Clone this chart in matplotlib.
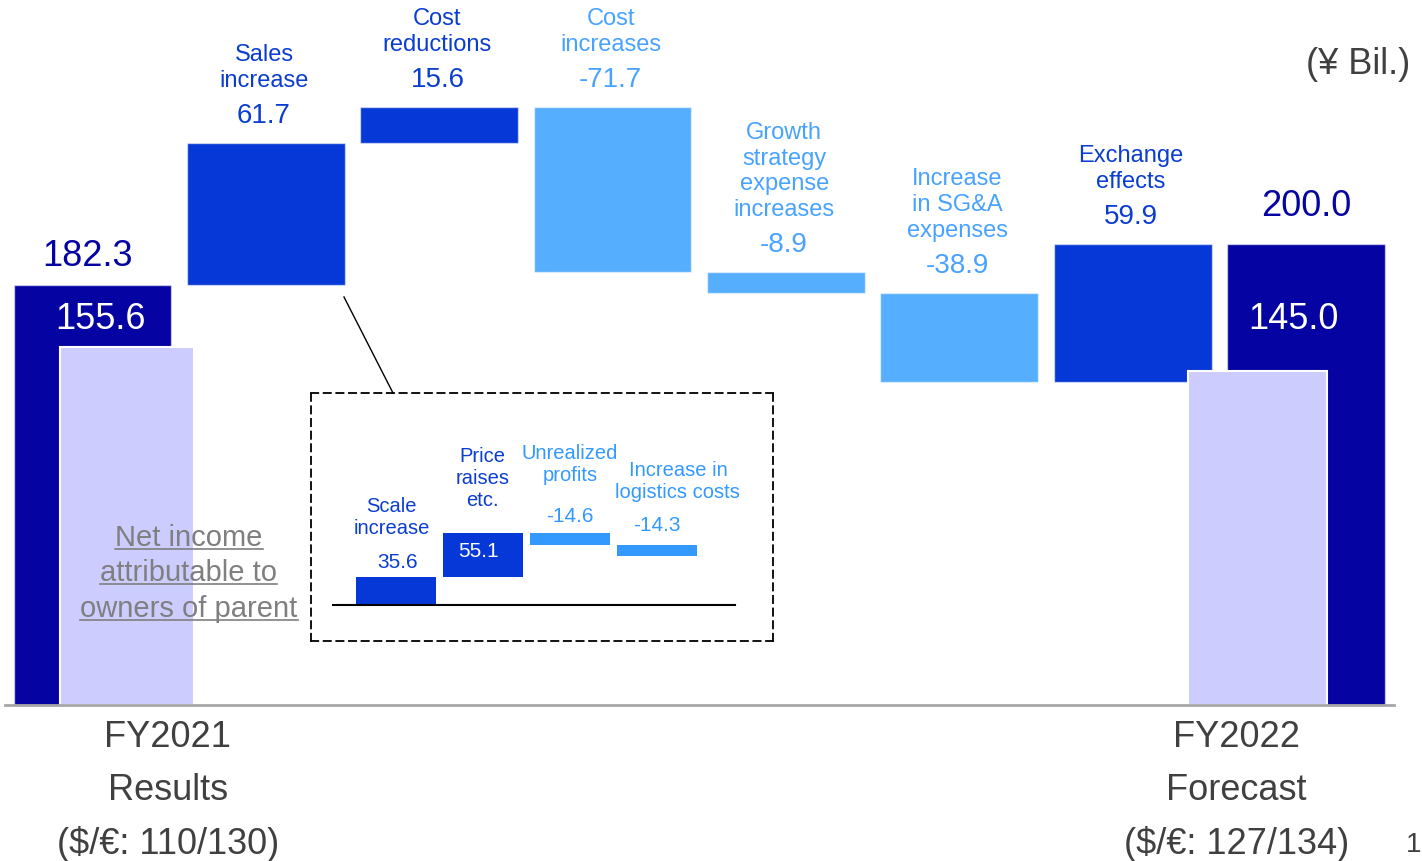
import matplotlib.pyplot as plt
from matplotlib.lines import Line2D
import numpy as np

plt.rcParams['font.family'] = ['Liberation Sans', 'DejaVu Sans']

# main bridge, ¥ Bil.
start_value = 182.3
end_value = 200.0
step_names = ['Sales\nincrease', 'Cost\nreductions', 'Cost\nincreases',
              'Growth\nstrategy\nexpense\nincreases', 'Increase\nin SG&A\nexpenses',
              'Exchange\neffects']
step_values = [61.7, 15.6, -71.7, -8.9, -38.9, 59.9]
net_income = [155.6, 145.0]
net_label = ['Net income', 'attributable to', 'owners of parent']
period_labels = ['FY2021\nResults\n($/€: 110/130)', 'FY2022\nForecast\n($/€: 127/134)']
unit_label = '(¥ Bil.)'

# breakdown of the sales increase
sub_names = ['Scale\nincrease', 'Price\nraises\netc.', 'Unrealized\nprofits',
             'Increase in\nlogistics costs']
sub_values = [35.6, 55.1, -14.6, -14.3]

NAVY = '#0603a3'
BLUE = '#0538d6'
LIGHT = '#56aeff'
LAV = '#ccccff'
SUB_LIGHT = '#3399ff'
GREY = '#404040'
TXT_BLUE = '#0a3dd0'
TXT_LIGHT = '#48a2ff'
PX = 0.72  # points per pixel at dpi 100

fig = plt.figure(figsize=(14.22, 8.61), dpi=100)
ax = fig.add_axes([0, 0, 1, 1])
ax.set_xlim(-0.533, 7.669)
ax.set_ylim(-67.7, 306.0)
ax.axis('off')

n = len(step_values)
w = 0.91
vals = np.array(step_values)
cum = start_value + np.concatenate([[0], np.cumsum(vals)])
bottoms = np.where(vals > 0, cum[:-1], cum[1:])
tops = bottoms + np.abs(vals)
xs = np.arange(1, n + 1)
edge = dict(edgecolor=(1, 1, 1, 0.55), linewidth=1)

ax.bar([0, n + 1], [start_value, end_value], w, color=NAVY, **edge)
ax.bar(xs, np.abs(vals), w, bottom=bottoms,
       color=[BLUE if v > 0 else LIGHT for v in vals], **edge)
ax.bar([0.2, n + 0.72], net_income, [0.77, 0.80], color=LAV,
       edgecolor='white', linewidth=1.5, zorder=3)
ax.axhline(0, xmin=0.0035, xmax=0.98, color='#a6a6a6', lw=2, zorder=4)


def label(a, x, y, txt, dy, **kw):
    a.annotate(txt, (x, y), xytext=(0, dy * PX), textcoords='offset points',
               ha='center', **kw)


for x, top, v, name in zip(xs, tops, vals, step_names):
    c = TXT_BLUE if v > 0 else TXT_LIGHT
    label(ax, x - 0.01, top, f'{v:.1f}', 27, va='center', fontsize=20, color=c)
    label(ax, x - 0.01, top, name, 51, va='bottom', fontsize=17, color=c,
          linespacing=1.22)

label(ax, -0.03, start_value, f'{start_value:.1f}', 29, va='center',
      fontsize=26, color=NAVY)
label(ax, n + 1, end_value, f'{end_value:.1f}', 38, va='center',
      fontsize=26, color=NAVY)
ax.text(0.045, 167.5, f'{net_income[0]:.1f}', ha='center', va='center',
        fontsize=26, color='white', zorder=5)
ax.text(n + 0.93, 167.5, f'{net_income[1]:.1f}', ha='center', va='center',
        fontsize=26, color='white', zorder=5)

ax.text(0.435, -37.3, period_labels[0], ha='center', va='center',
        fontsize=26, color=GREY, linespacing=1.66)
ax.text(n + 0.6, -37.3, period_labels[1], ha='center', va='center',
        fontsize=26, color=GREY, linespacing=1.66)

net_texts = []
for i, line in enumerate(net_label):
    t = ax.text(0.557, 72.6 - i * 15.4, line, ha='center', va='center',
                fontsize=21, color='#7f7f7f', zorder=5)
    net_texts.append(t)

fig.text(1358 / 1422, 1 - 65 / 861, unit_label, ha='center', va='center',
         fontsize=26, color=GREY)
fig.text(1406 / 1422, 1 - 858 / 861, '1', ha='left', va='bottom',
         fontsize=20, color=GREY)

# inset with the sales increase breakdown
ins = fig.add_axes([311 / 1422, (861 - 641) / 861, 462 / 1422, 248 / 861])
ins.set_xlim(-0.977, 4.333)
ins.set_ylim(-45.6, 268.4)
ins.set_xticks([])
ins.set_yticks([])
ins.patch.set_alpha(0)
for s in ins.spines.values():
    s.set_linestyle((0, (4, 3)))
    s.set_linewidth(1.3)

sv = np.array(sub_values)
scum = np.concatenate([[0], np.cumsum(sv)])
sb = np.where(sv > 0, scum[:-1], scum[1:])
stop = sb + np.abs(sv)
sx = np.arange(len(sv))
ins.bar(sx, np.abs(sv), 0.92, bottom=sb,
        color=[BLUE if v > 0 else SUB_LIGHT for v in sv])
ins.axhline(0, xmin=22 / 462, xmax=424 / 462, color='black', lw=1.5)

name_dx = [-0.05, -0.01, 0.0, 0.24]
name_dy = [39, 23, 48, 43]
val_dx = [0.02, -0.05, 0.0, 0.0]
val_dy = [14, -18, 17, 19]
for i, (x, top, v, name) in enumerate(zip(sx, stop, sv, sub_names)):
    c = TXT_BLUE if v > 0 else SUB_LIGHT
    vc = 'white' if val_dy[i] < 0 else c
    label(ins, x + val_dx[i], top, f'{v:.1f}', val_dy[i], va='center',
          fontsize=15, color=vc)
    label(ins, x + name_dx[i], top, name, name_dy[i], va='bottom',
          fontsize=14.5, color=c, linespacing=1.22)

fig.add_artist(Line2D([344 / 1422, 393 / 1422], [1 - 297 / 861, 1 - 393 / 861],
                      transform=fig.transFigure, color='black', lw=1))

# underline the net income caption
fig.canvas.draw()
r = fig.canvas.get_renderer()
for t in net_texts:
    bb = t.get_window_extent(r)
    y = bb.y0 + 3
    fig.add_artist(Line2D([bb.x0, bb.x1], [y, y], transform=None,
                          color='#7f7f7f', lw=1.2))

fig.savefig('out.png', dpi=100)
